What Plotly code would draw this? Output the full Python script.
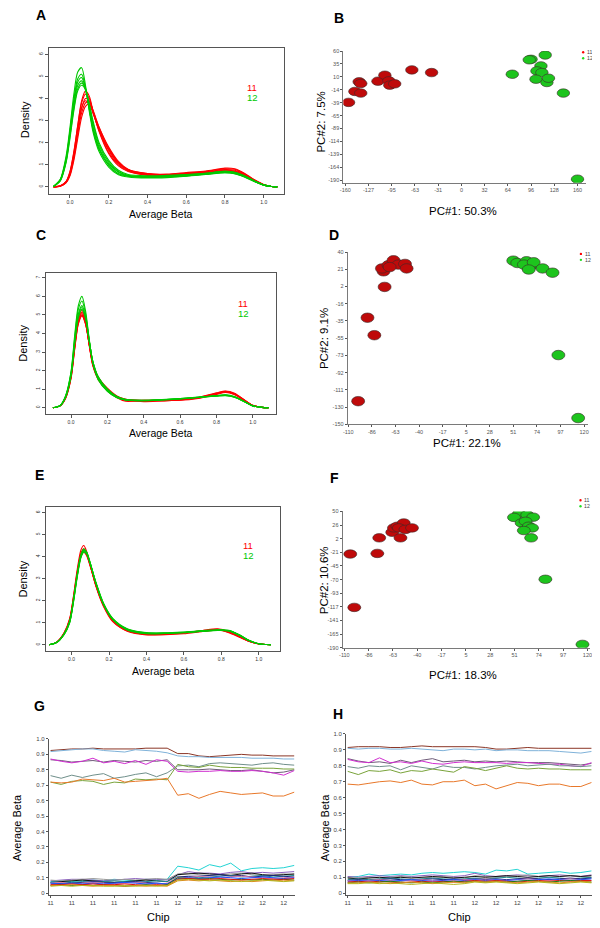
import numpy as np
import plotly.graph_objects as go

# the page places the figure 8px from the top-left corner of the window
OFF = 8
W, H = 600 - OFF, 928 - OFF
FONT = "Liberation Sans, Arial, sans-serif"

# ======================= DATA =======================
# ---- density panels (A, C, E): x grids and curves ----
X_A = [-0.085, -0.05, -0.02, 0.0, 0.02, 0.04, 0.06, 0.08, 0.10, 0.12, 0.15, 0.20, 0.25,
       0.30, 0.40, 0.50, 0.60, 0.70, 0.80, 0.85, 0.90, 0.95, 1.00, 1.04, 1.07]
A_RED = [
    [0, 0.05, 0.25, 0.7, 1.6, 2.8, 3.9, 4.35, 4.1, 3.4, 2.5, 1.5, 0.95, 0.7, 0.55, 0.55, 0.6, 0.65, 0.75, 0.72, 0.55, 0.3, 0.1, 0.02, 0],
    [0, 0.04, 0.22, 0.62, 1.45, 2.55, 3.55, 4.0, 3.9, 3.4, 2.6, 1.65, 1.05, 0.75, 0.55, 0.55, 0.6, 0.68, 0.78, 0.75, 0.58, 0.3, 0.1, 0.02, 0],
    [0, 0.03, 0.18, 0.5, 1.2, 2.2, 3.15, 3.65, 3.75, 3.4, 2.7, 1.8, 1.15, 0.8, 0.6, 0.55, 0.62, 0.7, 0.82, 0.8, 0.6, 0.32, 0.1, 0.02, 0],
    [0, 0.04, 0.22, 0.6, 1.4, 2.55, 3.6, 3.9, 3.75, 3.3, 2.6, 1.7, 1.1, 0.78, 0.58, 0.52, 0.58, 0.65, 0.72, 0.7, 0.55, 0.3, 0.1, 0.02, 0],
    [0, 0.05, 0.24, 0.68, 1.55, 2.75, 3.8, 4.2, 4.0, 3.35, 2.55, 1.55, 1.0, 0.72, 0.52, 0.5, 0.55, 0.62, 0.7, 0.68, 0.52, 0.28, 0.09, 0.02, 0],
    [0, 0.03, 0.2, 0.55, 1.3, 2.35, 3.35, 3.8, 3.85, 3.45, 2.7, 1.75, 1.1, 0.78, 0.6, 0.58, 0.65, 0.72, 0.85, 0.82, 0.62, 0.33, 0.11, 0.02, 0],
]
A_GREEN = [
    [0.02, 0.35, 1.4, 2.7, 4.2, 5.2, 5.4, 4.6, 3.4, 2.45, 1.6, 0.9, 0.55, 0.45, 0.4, 0.42, 0.48, 0.56, 0.64, 0.6, 0.45, 0.25, 0.08, 0.02, 0],
    [0.02, 0.33, 1.3, 2.55, 3.95, 4.9, 5.1, 4.5, 3.5, 2.55, 1.7, 0.98, 0.6, 0.48, 0.43, 0.45, 0.5, 0.58, 0.66, 0.62, 0.47, 0.26, 0.08, 0.02, 0],
    [0.02, 0.3, 1.2, 2.4, 3.7, 4.6, 4.8, 4.4, 3.6, 2.7, 1.8, 1.05, 0.66, 0.5, 0.45, 0.48, 0.53, 0.6, 0.68, 0.64, 0.48, 0.27, 0.08, 0.02, 0],
    [0.02, 0.28, 1.15, 2.3, 3.55, 4.45, 4.7, 4.45, 3.7, 2.85, 1.9, 1.12, 0.7, 0.53, 0.47, 0.5, 0.55, 0.62, 0.7, 0.66, 0.5, 0.28, 0.09, 0.02, 0],
    [0.02, 0.27, 1.1, 2.2, 3.45, 4.35, 4.6, 4.4, 3.75, 2.95, 2.0, 1.2, 0.75, 0.56, 0.5, 0.52, 0.56, 0.62, 0.7, 0.66, 0.5, 0.28, 0.09, 0.02, 0],
    [0.02, 0.32, 1.25, 2.5, 3.85, 4.75, 4.95, 4.45, 3.5, 2.6, 1.72, 0.98, 0.6, 0.5, 0.44, 0.46, 0.5, 0.57, 0.64, 0.6, 0.46, 0.26, 0.08, 0.02, 0],
]

X_C = [-0.1, -0.06, -0.03, 0.0, 0.02, 0.04, 0.06, 0.08, 0.10, 0.12, 0.15, 0.20, 0.25,
       0.30, 0.40, 0.50, 0.60, 0.70, 0.80, 0.85, 0.90, 0.95, 1.00, 1.05, 1.087]
C_RED = [
    [0, 0.1, 0.55, 1.7, 3.3, 4.7, 5.15, 4.6, 3.4, 2.3, 1.55, 0.95, 0.6, 0.45, 0.38, 0.38, 0.42, 0.52, 0.75, 0.85, 0.72, 0.42, 0.12, 0.02, 0],
    [0, 0.1, 0.52, 1.62, 3.2, 4.55, 5.0, 4.5, 3.4, 2.35, 1.6, 1.0, 0.62, 0.42, 0.36, 0.4, 0.45, 0.55, 0.78, 0.88, 0.75, 0.44, 0.13, 0.02, 0],
    [0, 0.11, 0.57, 1.75, 3.35, 4.8, 5.25, 4.65, 3.35, 2.25, 1.5, 0.92, 0.55, 0.35, 0.4, 0.42, 0.4, 0.5, 0.72, 0.82, 0.7, 0.4, 0.12, 0.02, 0],
    [0, 0.1, 0.5, 1.58, 3.15, 4.5, 4.95, 4.5, 3.45, 2.4, 1.65, 1.05, 0.65, 0.45, 0.4, 0.38, 0.42, 0.55, 0.8, 0.9, 0.78, 0.45, 0.13, 0.02, 0],
    [0, 0.1, 0.53, 1.66, 3.25, 4.62, 5.08, 4.55, 3.4, 2.3, 1.58, 0.98, 0.6, 0.4, 0.33, 0.36, 0.44, 0.53, 0.76, 0.86, 0.74, 0.43, 0.12, 0.02, 0],
]
C_GREEN = [
    [0, 0.12, 0.65, 1.95, 3.9, 5.5, 6.0, 5.2, 3.7, 2.4, 1.5, 0.88, 0.55, 0.42, 0.38, 0.42, 0.48, 0.55, 0.65, 0.68, 0.58, 0.35, 0.1, 0.02, 0],
    [0, 0.11, 0.6, 1.82, 3.6, 5.05, 5.5, 4.9, 3.6, 2.45, 1.6, 0.95, 0.58, 0.42, 0.4, 0.43, 0.48, 0.56, 0.66, 0.7, 0.6, 0.36, 0.1, 0.02, 0],
    [0, 0.11, 0.58, 1.78, 3.5, 4.95, 5.4, 4.85, 3.6, 2.5, 1.65, 1.0, 0.62, 0.45, 0.4, 0.44, 0.5, 0.57, 0.62, 0.65, 0.56, 0.34, 0.1, 0.02, 0],
    [0, 0.1, 0.56, 1.72, 3.45, 4.85, 5.3, 4.8, 3.6, 2.5, 1.65, 1.0, 0.6, 0.42, 0.38, 0.42, 0.47, 0.55, 0.64, 0.68, 0.58, 0.35, 0.1, 0.02, 0],
    [0, 0.12, 0.62, 1.9, 3.75, 5.3, 5.75, 5.05, 3.65, 2.42, 1.55, 0.9, 0.56, 0.43, 0.39, 0.43, 0.49, 0.56, 0.63, 0.66, 0.57, 0.35, 0.1, 0.02, 0],
]

X_E = [-0.12, -0.08, -0.04, -0.01, 0.01, 0.03, 0.05, 0.065, 0.08, 0.10, 0.13, 0.17, 0.22,
       0.30, 0.40, 0.50, 0.60, 0.70, 0.78, 0.84, 0.90, 0.95, 1.00, 1.04, 1.065]
E_RED = [
    [0, 0.12, 0.55, 1.2, 2.2, 3.4, 4.3, 4.5, 4.25, 3.6, 2.65, 1.75, 1.05, 0.62, 0.48, 0.5, 0.55, 0.65, 0.72, 0.6, 0.36, 0.16, 0.04, 0.01, 0],
    [0, 0.11, 0.5, 1.1, 2.05, 3.2, 4.0, 4.2, 4.05, 3.55, 2.7, 1.8, 1.1, 0.65, 0.5, 0.5, 0.54, 0.62, 0.7, 0.58, 0.35, 0.15, 0.04, 0.01, 0],
    [0, 0.12, 0.53, 1.15, 2.15, 3.3, 4.15, 4.35, 4.15, 3.6, 2.68, 1.78, 1.08, 0.6, 0.45, 0.47, 0.52, 0.62, 0.68, 0.55, 0.33, 0.15, 0.04, 0.01, 0],
    [0, 0.11, 0.52, 1.13, 2.1, 3.25, 4.1, 4.3, 4.1, 3.58, 2.7, 1.82, 1.12, 0.64, 0.47, 0.46, 0.5, 0.6, 0.66, 0.57, 0.36, 0.16, 0.04, 0.01, 0],
]
E_GREEN = [
    [0, 0.1, 0.48, 1.05, 2.0, 3.15, 4.05, 4.3, 4.2, 3.7, 2.8, 1.85, 1.15, 0.68, 0.52, 0.52, 0.56, 0.62, 0.66, 0.64, 0.42, 0.18, 0.05, 0.01, 0],
    [0, 0.1, 0.47, 1.02, 1.95, 3.1, 4.0, 4.25, 4.15, 3.68, 2.82, 1.88, 1.18, 0.7, 0.54, 0.53, 0.57, 0.63, 0.67, 0.65, 0.43, 0.19, 0.05, 0.01, 0],
    [0, 0.11, 0.5, 1.08, 2.05, 3.2, 4.1, 4.35, 4.22, 3.7, 2.78, 1.84, 1.14, 0.66, 0.5, 0.51, 0.55, 0.61, 0.65, 0.63, 0.41, 0.18, 0.05, 0.01, 0],
    [0, 0.1, 0.46, 1.0, 1.92, 3.05, 3.95, 4.2, 4.12, 3.66, 2.84, 1.9, 1.2, 0.72, 0.55, 0.54, 0.58, 0.64, 0.68, 0.66, 0.44, 0.19, 0.05, 0.01, 0],
    [0, 0.1, 0.48, 1.04, 1.98, 3.12, 4.02, 4.28, 4.18, 3.69, 2.8, 1.86, 1.16, 0.69, 0.53, 0.52, 0.56, 0.62, 0.66, 0.64, 0.42, 0.18, 0.05, 0.01, 0],
]
BETA_TICKS = [0.0, 0.2, 0.4, 0.6, 0.8, 1.0]
BETA_TICK_TEXT = ["0.0", "0.2", "0.4", "0.6", "0.8", "1.0"]

# ---- PCA panels (B, D, F) ----
B_RED_PC1 = [-155.5, -146.8, -138.7, -140.9, -138.7, -115.0, -105.5, -100.0, -98.7, -91.9, -68.3, -41.1]
B_RED_PC2 = [-39.4, -18.2, -21.4, 0.4, -2.8, 1.7, 13.2, 2.3, -6.0, -3.5, 23.5, 18.3]
B_GREEN_PC1 = [70.1, 96.0, 93.5, 115.5, 109.6, 104.1, 110.9, 102.8, 117.8, 120.0, 140.5, 160.0]
B_GREEN_PC2 = [15.1, 44.0, 43.0, 52.3, 31.2, 21.5, 18.3, 5.5, -0.9, 7.4, -21.4, -188.0]
B_XTICKS = ["-160", "-127", "-95", "-63", "-31", "0", "32", "64", "96", "128", "160"]
B_YTICKS = ["60", "35", "10", "-14", "-39", "-65", "-89", "-114", "-139", "-164", "-190"]

D_RED_PC1 = [-100.4, -91.3, -84.6, -74.6, -75.6, -77.2, -70.8, -65.9, -61.1, -54.7, -53.1, -69.7]
D_RED_PC2 = [-124.5, -32.4, -51.7, 1.6, 18.8, 22.0, 25.6, 31.0, 26.2, 27.0, 22.0, 23.5]
D_GREEN_PC1 = [50.9, 54.8, 63.8, 69.2, 66.0, 61.3, 70.8, 66.0, 79.5, 89.2, 94.9, 114.2]
D_GREEN_PC2 = [30.6, 28.0, 29.9, 26.2, 22.5, 26.2, 28.8, 20.8, 22.0, 17.3, -73.6, -143.1]
D_XTICKS = ["-110", "-86", "-63", "-40", "-17", "5", "28", "51", "74", "97", "120"]
D_YTICKS = ["40", "21", "2", "-16", "-35", "-55", "-73", "-92", "-111", "-130", "-150"]

F_RED_PC1 = [-104.4, -100.6, -78.8, -77.0, -64.7, -63.1, -59.9, -53.8, -58.4, -52.2, -46.0, -56.9]
F_RED_PC2 = [-25.0, -118.9, -23.9, 3.5, 13.3, 21.0, 23.9, 29.7, 21.0, 18.4, 21.0, 3.5]
F_GREEN_PC1 = [55.2, 63.0, 50.5, 68.6, 57.7, 61.4, 64.5, 67.6, 59.8, 66.7, 80.2, 115.3]
F_GREEN_PC2 = [46.0, 44.0, 39.5, 39.9, 29.7, 32.6, 23.9, 21.0, 16.4, 3.5, -69.4, -184.0]
F_XTICKS = ["-110", "-86", "-63", "-40", "-17", "5", "28", "51", "74", "97", "120"]
F_YTICKS = ["50", "26", "2", "-21", "-45", "-70", "-93", "-117", "-141", "-165", "-190"]

# ---- chip panels (G, H) ----
CHIP_GROUP = ["11"] * 12 + ["12"] * 12

G_LINES = {
    "#8B3626": [0.925, 0.93, 0.935, 0.935, 0.94, 0.935, 0.935, 0.935, 0.935, 0.94, 0.94, 0.94, 0.905, 0.905, 0.89, 0.885, 0.89, 0.895, 0.90, 0.895, 0.895, 0.89, 0.89, 0.89],
    "#7FB2D9": [0.918, 0.925, 0.93, 0.935, 0.935, 0.925, 0.92, 0.915, 0.93, 0.925, 0.92, 0.91, 0.89, 0.885, 0.885, 0.88, 0.88, 0.88, 0.88, 0.875, 0.875, 0.875, 0.87, 0.87],
    "#6E5A78": [0.865, 0.86, 0.85, 0.855, 0.86, 0.85, 0.86, 0.855, 0.85, 0.86, 0.855, 0.865, 0.80, 0.80, 0.80, 0.805, 0.80, 0.795, 0.795, 0.80, 0.79, 0.78, 0.785, 0.80],
    "#D02ED0": [0.87, 0.855, 0.845, 0.855, 0.875, 0.845, 0.855, 0.84, 0.86, 0.835, 0.865, 0.855, 0.79, 0.785, 0.79, 0.79, 0.795, 0.79, 0.79, 0.795, 0.79, 0.78, 0.765, 0.795],
    "#6F8F8A": [0.762, 0.745, 0.765, 0.75, 0.765, 0.775, 0.745, 0.755, 0.77, 0.78, 0.755, 0.78, 0.825, 0.83, 0.82, 0.84, 0.845, 0.84, 0.835, 0.83, 0.84, 0.845, 0.835, 0.83],
    "#79A33A": [0.72, 0.705, 0.725, 0.73, 0.725, 0.705, 0.72, 0.715, 0.74, 0.735, 0.74, 0.735, 0.835, 0.82, 0.815, 0.83, 0.82, 0.815, 0.815, 0.81, 0.81, 0.81, 0.805, 0.805],
    "#E8782A": [0.72, 0.715, 0.72, 0.74, 0.735, 0.73, 0.745, 0.72, 0.725, 0.73, 0.735, 0.745, 0.635, 0.645, 0.615, 0.64, 0.66, 0.65, 0.64, 0.645, 0.65, 0.63, 0.63, 0.655],
    "#22D3D3": [0.075, 0.08, 0.075, 0.08, 0.085, 0.08, 0.09, 0.085, 0.08, 0.09, 0.085, 0.09, 0.175, 0.165, 0.15, 0.185, 0.17, 0.195, 0.145, 0.16, 0.165, 0.16, 0.165, 0.18],
    "#8B5FBF": [0.08, 0.085, 0.09, 0.09, 0.085, 0.08, 0.085, 0.09, 0.095, 0.09, 0.09, 0.085, 0.12, 0.14, 0.13, 0.13, 0.125, 0.135, 0.14, 0.13, 0.135, 0.13, 0.135, 0.14],
    "#999999": [0.085, 0.08, 0.085, 0.09, 0.095, 0.09, 0.085, 0.09, 0.085, 0.09, 0.095, 0.09, 0.125, 0.13, 0.12, 0.115, 0.12, 0.125, 0.13, 0.12, 0.115, 0.12, 0.125, 0.12],
    "#111111": [0.07, 0.075, 0.08, 0.085, 0.08, 0.075, 0.07, 0.075, 0.08, 0.085, 0.08, 0.075, 0.12, 0.125, 0.13, 0.125, 0.12, 0.115, 0.125, 0.13, 0.12, 0.115, 0.12, 0.125],
    "#208F8F": [0.07, 0.065, 0.07, 0.075, 0.07, 0.075, 0.08, 0.075, 0.07, 0.075, 0.08, 0.075, 0.11, 0.105, 0.1, 0.105, 0.11, 0.115, 0.105, 0.11, 0.115, 0.105, 0.11, 0.115],
    "#1A237E": [0.06, 0.065, 0.065, 0.07, 0.075, 0.07, 0.065, 0.07, 0.075, 0.07, 0.065, 0.06, 0.105, 0.11, 0.11, 0.115, 0.12, 0.11, 0.115, 0.105, 0.11, 0.115, 0.11, 0.105],
    "#E07AA8": [0.065, 0.07, 0.06, 0.065, 0.07, 0.065, 0.06, 0.065, 0.07, 0.065, 0.06, 0.065, 0.105, 0.1, 0.11, 0.105, 0.1, 0.105, 0.11, 0.105, 0.1, 0.095, 0.1, 0.105],
    "#1F4FFF": [0.065, 0.06, 0.065, 0.06, 0.065, 0.06, 0.065, 0.07, 0.065, 0.06, 0.065, 0.06, 0.095, 0.1, 0.095, 0.1, 0.105, 0.1, 0.095, 0.1, 0.105, 0.1, 0.095, 0.1],
    "#1B7A1B": [0.05, 0.055, 0.05, 0.055, 0.05, 0.055, 0.05, 0.045, 0.05, 0.055, 0.05, 0.055, 0.1, 0.095, 0.09, 0.095, 0.09, 0.085, 0.09, 0.085, 0.09, 0.085, 0.09, 0.085],
    "#DD1111": [0.055, 0.055, 0.06, 0.055, 0.06, 0.055, 0.055, 0.06, 0.055, 0.05, 0.055, 0.05, 0.09, 0.095, 0.09, 0.09, 0.095, 0.09, 0.085, 0.09, 0.095, 0.09, 0.09, 0.095],
    "#E08A1E": [0.05, 0.05, 0.055, 0.05, 0.045, 0.05, 0.05, 0.045, 0.05, 0.045, 0.05, 0.045, 0.08, 0.085, 0.08, 0.085, 0.08, 0.075, 0.08, 0.075, 0.08, 0.085, 0.08, 0.085],
    "#B5B51E": [0.045, 0.05, 0.045, 0.05, 0.05, 0.045, 0.045, 0.05, 0.045, 0.05, 0.045, 0.05, 0.085, 0.09, 0.085, 0.08, 0.085, 0.08, 0.075, 0.08, 0.085, 0.08, 0.075, 0.08],
}

H_LINES = {
    "#8B3626": [0.915, 0.92, 0.92, 0.92, 0.915, 0.915, 0.92, 0.925, 0.92, 0.92, 0.92, 0.92, 0.92, 0.915, 0.905, 0.905, 0.91, 0.915, 0.91, 0.91, 0.91, 0.91, 0.91, 0.91],
    "#7FB2D9": [0.91, 0.905, 0.91, 0.91, 0.905, 0.905, 0.91, 0.905, 0.90, 0.895, 0.905, 0.905, 0.90, 0.905, 0.895, 0.90, 0.90, 0.895, 0.895, 0.895, 0.89, 0.885, 0.88, 0.89],
    "#6E5A78": [0.845, 0.83, 0.82, 0.825, 0.815, 0.835, 0.82, 0.835, 0.845, 0.825, 0.83, 0.835, 0.825, 0.83, 0.825, 0.83, 0.825, 0.82, 0.82, 0.82, 0.815, 0.81, 0.805, 0.815],
    "#D02ED0": [0.84, 0.825, 0.82, 0.85, 0.82, 0.825, 0.815, 0.83, 0.815, 0.81, 0.82, 0.825, 0.82, 0.82, 0.82, 0.815, 0.82, 0.82, 0.815, 0.81, 0.81, 0.80, 0.795, 0.82],
    "#6F8F8A": [0.795, 0.785, 0.80, 0.795, 0.80, 0.775, 0.80, 0.79, 0.78, 0.80, 0.79, 0.79, 0.78, 0.79, 0.80, 0.805, 0.81, 0.80, 0.805, 0.81, 0.80, 0.80, 0.795, 0.80],
    "#79A33A": [0.765, 0.745, 0.77, 0.765, 0.775, 0.755, 0.77, 0.765, 0.78, 0.77, 0.76, 0.795, 0.785, 0.77, 0.785, 0.80, 0.785, 0.78, 0.785, 0.78, 0.78, 0.775, 0.775, 0.775],
    "#E8782A": [0.685, 0.68, 0.69, 0.70, 0.705, 0.695, 0.71, 0.685, 0.68, 0.70, 0.70, 0.71, 0.675, 0.685, 0.655, 0.675, 0.695, 0.69, 0.675, 0.685, 0.685, 0.67, 0.67, 0.695],
    "#22D3D3": [0.10, 0.105, 0.12, 0.11, 0.115, 0.12, 0.115, 0.125, 0.13, 0.125, 0.13, 0.135, 0.13, 0.12, 0.145, 0.14, 0.15, 0.12, 0.125, 0.13, 0.135, 0.125, 0.13, 0.14],
    "#8B5FBF": [0.105, 0.1, 0.105, 0.11, 0.105, 0.11, 0.105, 0.11, 0.115, 0.11, 0.105, 0.11, 0.125, 0.11, 0.105, 0.11, 0.115, 0.11, 0.105, 0.11, 0.115, 0.11, 0.105, 0.115],
    "#999999": [0.1, 0.095, 0.1, 0.095, 0.1, 0.105, 0.1, 0.095, 0.1, 0.105, 0.1, 0.095, 0.11, 0.105, 0.1, 0.105, 0.11, 0.115, 0.105, 0.1, 0.105, 0.11, 0.105, 0.1],
    "#111111": [0.095, 0.09, 0.095, 0.1, 0.095, 0.1, 0.095, 0.1, 0.105, 0.1, 0.095, 0.1, 0.105, 0.1, 0.105, 0.11, 0.105, 0.1, 0.105, 0.11, 0.105, 0.11, 0.105, 0.11],
    "#208F8F": [0.085, 0.09, 0.085, 0.09, 0.095, 0.09, 0.085, 0.09, 0.095, 0.09, 0.085, 0.09, 0.095, 0.09, 0.095, 0.1, 0.095, 0.09, 0.095, 0.1, 0.095, 0.09, 0.095, 0.1],
    "#1A237E": [0.08, 0.085, 0.08, 0.085, 0.09, 0.085, 0.08, 0.085, 0.09, 0.085, 0.09, 0.085, 0.09, 0.085, 0.09, 0.085, 0.09, 0.095, 0.09, 0.085, 0.09, 0.095, 0.09, 0.095],
    "#E07AA8": [0.08, 0.075, 0.08, 0.085, 0.08, 0.075, 0.08, 0.085, 0.08, 0.075, 0.08, 0.085, 0.085, 0.09, 0.085, 0.08, 0.085, 0.09, 0.085, 0.08, 0.085, 0.09, 0.085, 0.08],
    "#1F4FFF": [0.075, 0.08, 0.075, 0.08, 0.075, 0.08, 0.085, 0.08, 0.075, 0.08, 0.085, 0.08, 0.085, 0.08, 0.085, 0.08, 0.085, 0.08, 0.085, 0.09, 0.085, 0.08, 0.085, 0.09],
    "#DD1111": [0.07, 0.075, 0.07, 0.075, 0.07, 0.065, 0.07, 0.075, 0.07, 0.075, 0.07, 0.075, 0.08, 0.075, 0.08, 0.075, 0.07, 0.075, 0.08, 0.075, 0.08, 0.075, 0.08, 0.08],
    "#1B7A1B": [0.065, 0.07, 0.065, 0.07, 0.075, 0.07, 0.065, 0.07, 0.065, 0.07, 0.075, 0.07, 0.075, 0.07, 0.075, 0.07, 0.075, 0.08, 0.075, 0.07, 0.075, 0.08, 0.075, 0.07],
    "#E08A1E": [0.065, 0.065, 0.07, 0.065, 0.06, 0.065, 0.07, 0.065, 0.06, 0.065, 0.07, 0.065, 0.075, 0.07, 0.075, 0.07, 0.065, 0.07, 0.075, 0.07, 0.065, 0.07, 0.075, 0.07],
    "#B5B51E": [0.06, 0.06, 0.065, 0.06, 0.065, 0.06, 0.055, 0.06, 0.065, 0.06, 0.055, 0.06, 0.07, 0.065, 0.07, 0.065, 0.06, 0.065, 0.07, 0.065, 0.06, 0.065, 0.07, 0.065],
}
CHIP_YTICKS = [0, 0.1, 0.2, 0.3, 0.4, 0.5, 0.6, 0.7, 0.8, 0.9, 1.0]
CHIP_YTICK_TEXT = ["0", "0.1", "0.2", "0.3", "0.4", "0.5", "0.6", "0.7", "0.8", "0.9", "1.0"]

# ======================= FIGURE =======================
RED = "#FF0000"
GREEN = "#00C800"
PC_RED = "#BF0A0A"
PC_GREEN = "#1DC41D"

fig = go.Figure()
layout = {}
shapes = []
annotations = []


def sfx(n):
    return "" if n == 1 else str(n)


# all positions below are window pixels; convert to figure paper fractions
def fx(p):
    return (p - OFF) / W


def fy(p):
    return 1 - (p - OFF) / H


def dom_x(p0, p1):
    return [fx(p0), fx(p1)]


def dom_y(pbottom, ptop):
    return [fy(pbottom), fy(ptop)]


def ann(text, px, py, size, color="#000000", angle=0, xanchor="center", bold=False):
    if bold:
        text = "<b>" + text + "</b>"
    annotations.append(dict(text=text, x=fx(px), y=fy(py), xref="paper", yref="paper",
                            showarrow=False, textangle=angle, xanchor=xanchor, yanchor="middle",
                            font=dict(family=FONT, size=size, color=color)))


def density_panel(n, xs, reds, greens, xpx, ypx, xr, yr, ymax):
    s = sfx(n)
    for ys in reds:
        fig.add_trace(go.Scatter(x=xs, y=ys, mode="lines", xaxis="x" + s, yaxis="y" + s,
                                 line=dict(color=RED, width=1.1, shape="spline", smoothing=0.8),
                                 hoverinfo="skip"))
    for ys in greens:
        fig.add_trace(go.Scatter(x=xs, y=ys, mode="lines", xaxis="x" + s, yaxis="y" + s,
                                 line=dict(color=GREEN, width=1.1, shape="spline", smoothing=0.8),
                                 hoverinfo="skip"))
    common = dict(showline=True, mirror=True, linecolor="#555555", linewidth=1, ticks="outside",
                  ticklen=3, tickwidth=0.8, tickcolor="#555555", showgrid=False, zeroline=False,
                  tickfont=dict(family=FONT, size=5, color="#333333"))
    layout["xaxis" + s] = dict(domain=dom_x(*xpx), range=xr, anchor="y" + s,
                               tickvals=BETA_TICKS, ticktext=BETA_TICK_TEXT, **common)
    layout["yaxis" + s] = dict(domain=dom_y(*ypx), range=yr, anchor="x" + s,
                               tickvals=list(range(ymax + 1)), tickangle=-90, **common)


def pca_panel(n, rx, ry, gx, gy, xpx, ypx, xr, yr, xlab, ylab, ew, eh):
    s = sfx(n)
    for xs, ys, col in ((rx, ry, PC_RED), (gx, gy, PC_GREEN)):
        fig.add_trace(go.Scatter(x=xs, y=ys, mode="markers", xaxis="x" + s, yaxis="y" + s,
                                 marker=dict(size=6, color=col, opacity=0), hoverinfo="x+y"))
        for xv, yv in zip(xs, ys):
            shapes.append(dict(type="circle", xref="x" + s, yref="y" + s,
                               xsizemode="pixel", ysizemode="pixel",
                               xanchor=xv, yanchor=yv, x0=-ew / 2, x1=ew / 2, y0=-eh / 2, y1=eh / 2,
                               fillcolor=col, line=dict(color="#3a2a2a", width=0.6), layer="above"))
    common = dict(showline=True, linecolor="#7a7a7a", linewidth=1, ticks="outside", ticklen=2,
                  tickwidth=0.8, tickcolor="#555555", showgrid=False, zeroline=False,
                  tickfont=dict(family=FONT, size=5.5, color="#555555"))
    layout["xaxis" + s] = dict(domain=dom_x(*xpx), range=xr, anchor="y" + s,
                               tickvals=list(np.linspace(xr_t[n][0], xr_t[n][1], len(xlab))),
                               ticktext=xlab, **common)
    layout["yaxis" + s] = dict(domain=dom_y(*ypx), range=yr, anchor="x" + s,
                               tickvals=list(np.linspace(yr_t[n][0], yr_t[n][1], len(ylab))),
                               ticktext=ylab, **common)


def chip_panel(n, lines, xpx, ypx, xr, yr):
    s = sfx(n)
    xs = list(range(len(CHIP_GROUP)))
    for col, ys in lines.items():
        fig.add_trace(go.Scatter(x=xs, y=ys, mode="lines", xaxis="x" + s, yaxis="y" + s,
                                 line=dict(color=col, width=1), hoverinfo="skip"))
    common = dict(showline=True, linecolor="#555555", linewidth=1, ticks="outside", ticklen=2,
                  tickwidth=0.8, tickcolor="#555555", showgrid=False, zeroline=False,
                  tickfont=dict(family=FONT, size=6, color="#444444"))
    layout["xaxis" + s] = dict(domain=dom_x(*xpx), range=xr, anchor="y" + s,
                               tickvals=xs[::2], ticktext=CHIP_GROUP[::2], **common)
    layout["yaxis" + s] = dict(domain=dom_y(*ypx), range=yr, anchor="x" + s,
                               tickvals=CHIP_YTICKS, ticktext=CHIP_YTICK_TEXT, **common)


# tick spans (first/last tick value) for PCA axes
xr_t = {2: (-160, 160), 4: (-110, 120), 6: (-110, 120)}
yr_t = {2: (60, -190), 4: (40, -150), 6: (50, -190)}

# ---- A ----
density_panel(1, X_A, A_RED, A_GREEN, (44.3, 282.3), (191.7, 45.7), [-0.109, 1.105], [-0.30, 6.27], 6)
# ---- B ----
pca_panel(2, B_RED_PC1, B_RED_PC2, B_GREEN_PC1, B_GREEN_PC2, (342.3, 588.0), (181.0, 48.3),
          [-162.7, 171.9], [-195.2, 60], B_XTICKS, B_YTICKS, 12.5, 8.5)
# ---- C ----
density_panel(3, X_C, C_RED, C_GREEN, (41.0, 274.0), (413.3, 271.7), [-0.140, 1.127], [-0.32, 7.26], 7)
# ---- D ----
pca_panel(4, D_RED_PC1, D_RED_PC2, D_GREEN_PC1, D_GREEN_PC2, (346.7, 590.0), (424.0, 250.7),
          [-110.6, 123.9], [-150, 40], D_XTICKS, D_YTICKS, 13, 9.5)
# ---- E ----
density_panel(5, X_E, E_RED, E_GREEN, (41.7, 277.7), (651.7, 507.7), [-0.135, 1.111], [-0.26, 6.23], 6)
# ---- F ----
pca_panel(6, F_RED_PC1, F_RED_PC2, F_GREEN_PC1, F_GREEN_PC2, (341.5, 592.0), (649.0, 511.7),
          [-111.7, 122.5], [-190, 50], F_XTICKS, F_YTICKS, 13, 8.5)
# ---- G ----
chip_panel(7, G_LINES, (44.3, 293.0), (898.0, 740.7), [-0.16, 23.03], [-0.013, 1.0])
# ---- H ----
chip_panel(8, H_LINES, (345.0, 594.0), (898.0, 735.7), [-0.16, 23.06], [-0.0125, 1.0])

# ---- texts ----
for letter, px, py in (("A", 36, 12), ("B", 338, 15), ("C", 36, 233), ("D", 333, 233),
                       ("E", 35, 475), ("F", 333, 478), ("G", 35, 708), ("H", 337, 716)):
    ann(letter, px, py, 14, bold=True)

# density panels
ann("Density", 20, 117, 11, angle=-90)
ann("Average Beta", 158, 212, 10.5)
ann("11", 250, 85, 9.5, color=RED)
ann("12", 250, 95, 9.5, color=GREEN)
ann("Density", 18, 342, 11, angle=-90)
ann("Average Beta", 158, 433, 10.5)
ann("11", 241, 302.7, 9.5, color=RED)
ann("12", 241, 312.7, 9.5, color=GREEN)
ann("Density", 18.3, 580, 11, angle=-90)
ann("Average beta", 160, 672.7, 10.5)
ann("11", 246, 546, 9.5, color=RED)
ann("12", 246, 556, 9.5, color=GREEN)

# PCA panels
ann("PC#2: 7.5%", 320, 120, 11.5, angle=-90)
ann("PC#1: 50.3%", 463, 209, 11.5)
ann("PC#2: 9.1%", 323, 338, 11.5, angle=-90)
ann("PC#1: 22.1%", 467, 442.7, 11.5)
ann("PC#2: 10.6%", 322.7, 581, 11.5, angle=-90)
ann("PC#1: 18.3%", 463, 676, 11.5)
for (dx, dy1, dy2) in ((585, 49.5, 55.5), (582.7, 252.5, 258.5), (582.3, 500.5, 506.5)):
    for dy, col, lab in ((dy1, "#FF0000", "11"), (dy2, "#22DD22", "12")):
        shapes.append(dict(type="circle", xref="paper", yref="paper",
                           x0=fx(dx - 1.2), x1=fx(dx + 1.2),
                           y0=fy(dy + 1.2), y1=fy(dy - 1.2),
                           fillcolor=col, line=dict(width=0)))
        ann(lab, dx + 2, dy, 5.2, color="#444444", xanchor="left")

# chip panels
ann("Average Beta", 11.7, 830, 11, angle=-90)
ann("Chip", 155, 920, 11)
ann("Average Beta", 323.3, 830, 11, angle=-90)
ann("Chip", 460, 920, 11)

fig.update_layout(
    width=W, height=H, margin=dict(l=0, r=0, t=0, b=0),
    paper_bgcolor="white", plot_bgcolor="white", showlegend=False,
    font=dict(family=FONT), shapes=shapes, annotations=annotations, **layout,
)

fig.write_html("out.html")
